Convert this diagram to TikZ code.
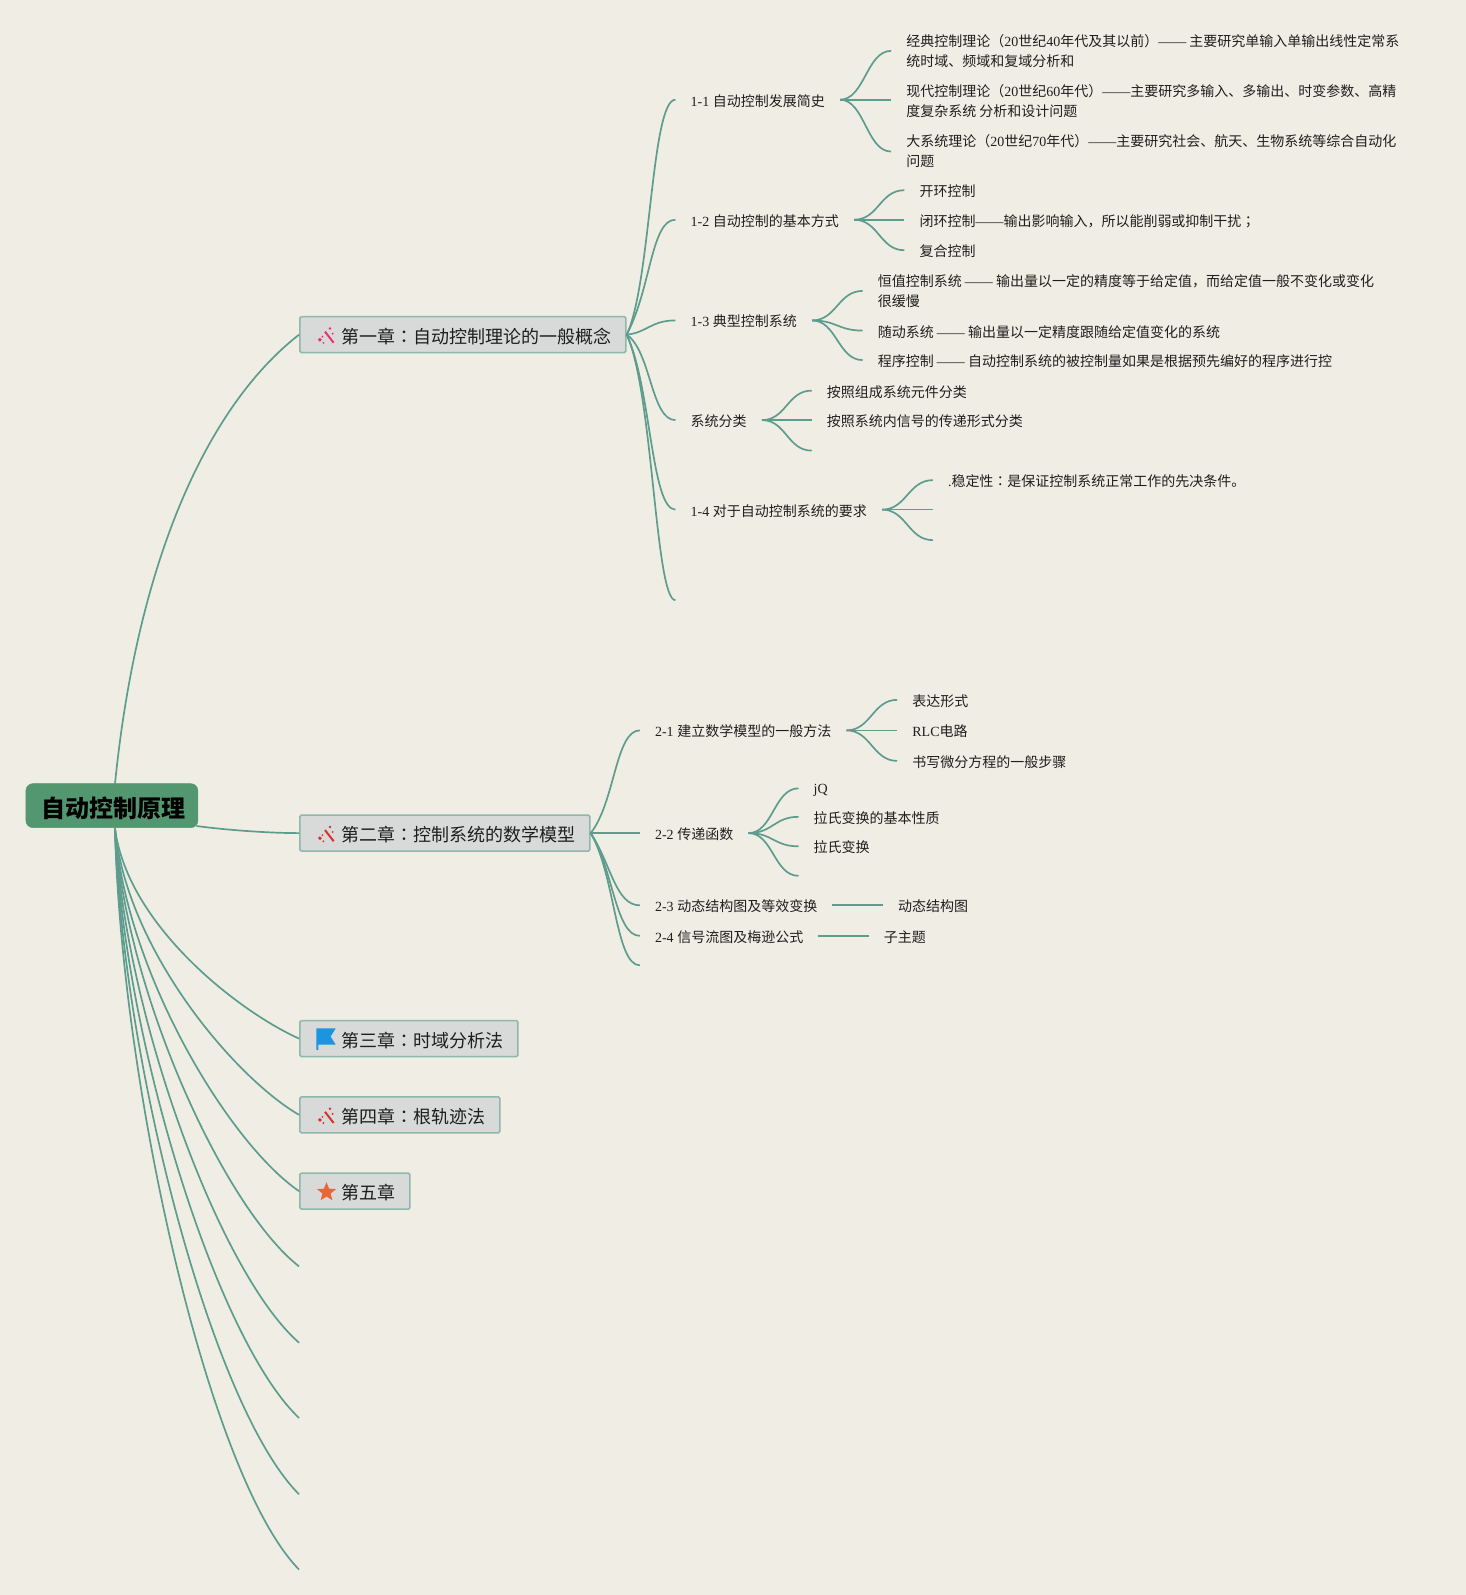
\documentclass[tikz,border=0pt]{standalone}
\usepackage{fontspec}
\setmainfont{Noto Sans CJK SC}
\newfontfamily\latfont{Liberation Serif}
\newfontfamily\jpfont{Noto Sans CJK JP}
\newcommand{\lat}[1]{{\latfont #1}}
\newcommand{\tnum}[1]{{\latfont #1}\hspace{3.6pt}}
\newcommand{\jp}[1]{{\jpfont #1}}
\usetikzlibrary{shapes.geometric}
\definecolor{bgcol}{HTML}{F0EEE4}
\definecolor{linecol}{HTML}{5E9C8E}
\definecolor{rootcol}{HTML}{52976F}
\definecolor{chapcol}{HTML}{D8D9D9}
\definecolor{chapline}{HTML}{8FB7AB}
\definecolor{txtcol}{HTML}{1E1E1E}
\definecolor{wandpink}{HTML}{E8336D}
\definecolor{wandred}{HTML}{D9302B}
\definecolor{flagcol}{HTML}{1C95E0}
\definecolor{starcol}{HTML}{E8663A}
\tikzset{
  conn/.style={draw=linecol,line width=1.7pt},
  rootnode/.style={rounded corners=7pt,fill=rootcol,draw=rootcol,inner xsep=0pt,inner ysep=0pt,minimum width=172pt,minimum height=44pt,font=\fontsize{24}{28}\selectfont\bfseries,execute at begin node={\rule{0pt}{1.12em}}},
  chapnode/.style={anchor=west,fill=chapcol,draw=chapline,line width=1.6pt,rounded corners=1.5pt,inner xsep=15pt,inner ysep=0pt,minimum height=36pt,text=txtcol,font=\fontsize{18}{22}\selectfont,execute at begin node={\rule{0pt}{1.04em}}},
  topic/.style={anchor=west,inner xsep=15pt,inner ysep=0pt,text=txtcol,font=\fontsize{14}{20}\selectfont,execute at begin node={\rule{0pt}{1.015em}}},
  leaf/.style={topic,align=left},
  wand/.pic={
    \draw[line width=2pt](-1.5,-4)--(7,7);
    \fill(-6.5,4) circle(1.9);
    \fill(-3,7) circle(1);
    \fill(3.4,-7) circle(1.4);
    \fill(6,-2) circle(1);
    \fill(-4,1) circle(1);
  }
}
\begin{document}
\begin{tikzpicture}[x=1.0173pt,y=-1.0173pt]
\fill[bgcol](0,0) rectangle (1441,1568);
\useasboundingbox (0,0) rectangle (1441,1568);

\node[rootnode](root)at(110,792){\hspace*{4pt}自动控制原理};
\coordinate(roottop)at(113,771);
\coordinate(rootbot)at(113,814);
\coordinate(rootright)at(193,812);

\node[chapnode](ch1)at(294,329){\hspace*{27pt}第一章\jp{：}自动控制理论的一般概念\hspace*{-1pt}};
\node[chapnode](ch2)at(294,819){\hspace*{27pt}第二章\jp{：}控制系统的数学模型\hspace*{-1pt}};
\node[chapnode](ch3)at(294,1021){\hspace*{27pt}第三章\jp{：}时域分析法\hspace*{-1pt}};
\node[chapnode](ch4)at(294,1096){\hspace*{27pt}第四章\jp{：}根轨迹法\hspace*{-1pt}};
\node[chapnode](ch5)at(294,1171){\hspace*{27pt}第五章\hspace*{-1pt}};
\coordinate(ch6)at(294,1245);
\coordinate(ch7)at(294,1320);
\coordinate(ch8)at(294,1394);
\coordinate(ch9)at(294,1469);
\coordinate(ch10)at(294,1543);

\pic[color=wandpink] at (321,330){wand};
\pic[color=wandred] at (321,820){wand};
\pic[color=wandred] at (321,1097){wand};
\fill[flagcol](311,1011)--(330,1011)--(325,1019)--(330,1027)--(313,1027)--(313,1032)--(311,1032)--cycle;
\node[star,star points=5,star point ratio=2.3,fill=starcol,inner sep=0pt,minimum size=20pt](ch5star)at(321,1172){};

% chapter one
\node[topic](t11)at(664,98){\tnum{1-1}自动控制发展简史};
\node[topic](t12)at(664,216){\tnum{1-2}自动控制的基本方式};
\node[topic](t13)at(664,315){\tnum{1-3}典型控制系统};
\node[topic](t14)at(664,413){系统分类};
\node[topic](t15)at(664,501){\tnum{1-4}对于自动控制系统的要求};
\coordinate(t16)at(664,590);

\node[leaf](l111)at(876,50){经典控制理论（\lat{20}世纪\lat{40}年代及其以前）\lat{——} 主要研究单输入单输出线性定常系\\统时域、频域和复域分析和};
\node[leaf](l112)at(876,99){现代控制理论（\lat{20}世纪\lat{60}年代）\lat{——}主要研究多输入、多输出、时变参数、高精\\度复杂系统 分析和设计问题};
\node[leaf](l113)at(876,149){大系统理论（\lat{20}世纪\lat{70}年代）\lat{——}主要研究社会、航天、生物系统等综合自动化\\问题};
\node[leaf](l121)at(889,187){开环控制};
\node[leaf](l122)at(889,216){闭环控制\lat{——}输出影响输入，所以能削弱或抑制干扰\jp{；}};
\node[leaf](l123)at(889,246){复合控制};
\node[leaf](l131)at(848,286){恒值控制系统 \lat{——} 输出量以一定的精度等于给定值，而给定值一般不变化或变化\\很缓慢};
\node[leaf](l132)at(848,325){随动系统 \lat{——} 输出量以一定精度跟随给定值变化的系统};
\node[leaf](l133)at(848,354){程序控制 \lat{——} 自动控制系统的被控制量如果是根据预先编好的程序进行控};
\node[leaf](l141)at(798,384){按照组成系统元件分类};
\node[leaf](l142)at(798,413){按照系统内信号的传递形式分类};
\coordinate(l143)at(798,443);
\node[leaf](l151)at(917,472){\lat{.}稳定性\jp{：}是保证控制系统正常工作的先决条件。};
\coordinate(l152)at(917,501);
\coordinate(l153)at(917,531);

% chapter two
\node[topic](t21)at(629,718){\tnum{2-1}建立数学模型的一般方法};
\node[topic](t22)at(629,819){\tnum{2-2}传递函数};
\node[topic](t23)at(629,890){\tnum{2-3}动态结构图及等效变换};
\node[topic](t24)at(629,920){\tnum{2-4}信号流图及梅逊公式};
\coordinate(t25)at(629,949);

\node[leaf](l211)at(882,688){表达形式};
\node[leaf](l212)at(882,718){\lat{RLC}电路};
\node[leaf](l213)at(882,748){书写微分方程的一般步骤};
\node[leaf](l221)at(785,775){\lat{jQ}};
\node[leaf](l222)at(785,803){拉氏变换的基本性质};
\node[leaf](l223)at(785,832){拉氏变换};
\coordinate(l224)at(785,861);
\node[leaf](l231)at(868,890){动态结构图};
\node[leaf](l241)at(854,920){子主题};

% root branches
\draw[conn](roottop).. controls +(22,-220) and +(-90,70) ..(ch1.west);
\draw[conn](rootright).. controls +(30,4) and +(-30,0) ..(ch2.west);
\draw[conn](rootbot).. controls +(12,95) and +(-60,-27) ..(ch3.west);
\draw[conn](rootbot).. controls +(11,118) and +(-65,-38) ..(ch4.west);
\draw[conn](rootbot).. controls +(10,140) and +(-70,-48) ..(ch5.west);
\draw[conn](rootbot).. controls +(10,160) and +(-74,-58) ..(ch6);
\draw[conn](rootbot).. controls +(9,182) and +(-78,-68) ..(ch7);
\draw[conn](rootbot).. controls +(8,205) and +(-82,-78) ..(ch8);
\draw[conn](rootbot).. controls +(7,228) and +(-86,-86) ..(ch9);
\draw[conn](rootbot).. controls +(6,250) and +(-90,-92) ..(ch10);

% chapter branches
\draw[conn](ch1.east).. controls +(24,-50) and +(-24,0) ..(t11.west);
\draw[conn](ch1.east).. controls +(24,-45) and +(-24,0) ..(t12.west);
\draw[conn](ch1.east).. controls +(20,-2) and +(-24,0) ..(t13.west);
\draw[conn](ch1.east).. controls +(24,16) and +(-24,0) ..(t14.west);
\draw[conn](ch1.east).. controls +(24,50) and +(-24,0) ..(t15.west);
\draw[conn](ch1.east).. controls +(26,55) and +(-20,0) ..(t16);
\draw[conn](ch2.east).. controls +(24,-30) and +(-24,0) ..(t21.west);
\draw[conn](ch2.east)--(t22.west);
\draw[conn](ch2.east).. controls +(20,30) and +(-24,0) ..(t23.west);
\draw[conn](ch2.east).. controls +(22,34) and +(-24,0) ..(t24.west);
\draw[conn](ch2.east).. controls +(24,40) and +(-24,0) ..(t25);

% topic branches
\draw[conn](t11.east).. controls +(24,0) and +(-24,0) ..(l111.west);
\draw[conn](t11.east)--(t11.east-|l112.west);
\draw[conn](t11.east).. controls +(24,0) and +(-24,0) ..(l113.west);
\draw[conn](t12.east).. controls +(24,0) and +(-24,0) ..(l121.west);
\draw[conn](t12.east)--(l122.west);
\draw[conn](t12.east).. controls +(24,0) and +(-24,0) ..(l123.west);
\draw[conn](t13.east).. controls +(24,0) and +(-24,0) ..(l131.west);
\draw[conn](t13.east).. controls +(24,0) and +(-24,0) ..(l132.west);
\draw[conn](t13.east).. controls +(24,0) and +(-24,0) ..(l133.west);
\draw[conn](t14.east).. controls +(24,0) and +(-24,0) ..(l141.west);
\draw[conn](t14.east)--(l142.west);
\draw[conn](t14.east).. controls +(24,0) and +(-24,0) ..(l143);
\draw[conn](t15.east).. controls +(24,0) and +(-24,0) ..(l151.west);
\draw[conn](t15.east)--(l152);
\draw[conn](t15.east).. controls +(24,0) and +(-24,0) ..(l153);
\draw[conn](t21.east).. controls +(24,0) and +(-24,0) ..(l211.west);
\draw[conn](t21.east)--(l212.west);
\draw[conn](t21.east).. controls +(24,0) and +(-24,0) ..(l213.west);
\draw[conn](t22.east).. controls +(24,0) and +(-24,0) ..(l221.west);
\draw[conn](t22.east).. controls +(24,0) and +(-24,0) ..(l222.west);
\draw[conn](t22.east).. controls +(24,0) and +(-24,0) ..(l223.west);
\draw[conn](t22.east).. controls +(24,0) and +(-24,0) ..(l224);
\draw[conn](t23.east)--(l231.west);
\draw[conn](t24.east)--(l241.west);
\end{tikzpicture}
\end{document}
